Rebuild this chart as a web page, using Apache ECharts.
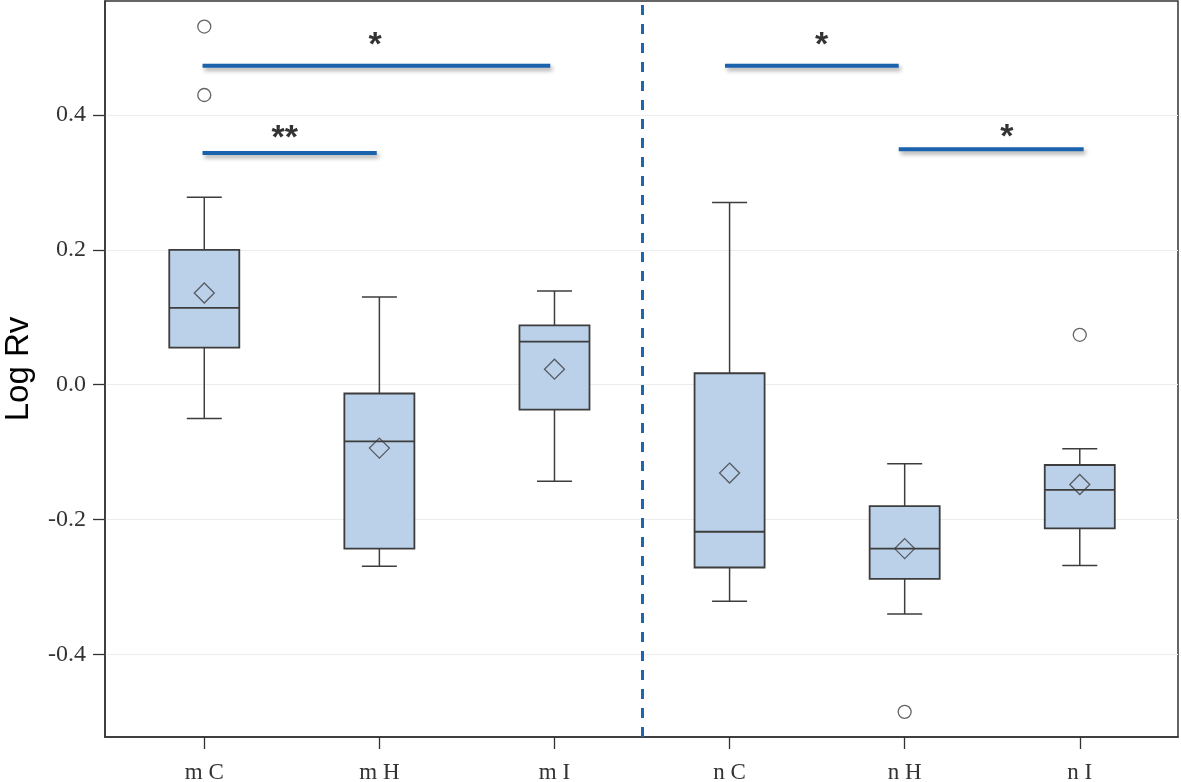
<!DOCTYPE html>
<html>
<head>
<meta charset="utf-8">
<script src="https://cdn.jsdelivr.net/npm/echarts@6/dist/echarts.min.js"></script>
<style>
html,body{margin:0;padding:0;background:#fff;}
#chart{width:1181px;height:782px;}
</style>
</head>
<body>
<div id="chart"></div>
<script>
// ---- data ----
const categories = ['m C', 'm H', 'm I', 'n C', 'n H', 'n I'];
// [lower whisker, Q1, median, Q3, upper whisker]
const boxStats = [
  [-0.050, 0.055, 0.114, 0.200, 0.278],
  [-0.269, -0.243, -0.084, -0.013, 0.130],
  [-0.143, -0.037, 0.064, 0.088, 0.139],
  [-0.321, -0.271, -0.218, 0.017, 0.270],
  [-0.340, -0.288, -0.243, -0.180, -0.117],
  [-0.268, -0.213, -0.156, -0.119, -0.095]
];
const means = [0.136, -0.094, 0.023, -0.131, -0.243, -0.148];
// [category index, value]
const outliers = [[0, 0.531], [0, 0.4295], [4, -0.485], [5, 0.074]];
// significance bars: [x from, x to, y]
const sigBars = [
  [-0.01, 1.976, 0.473],
  [-0.01, 0.985, 0.3435],
  [2.974, 3.966, 0.473],
  [3.966, 5.022, 0.349]
];
// significance labels: [x, y, text]
const sigLabels = [
  [0.975, 0.503, '*'],
  [0.46, 0.365, '**'],
  [3.526, 0.503, '*'],
  [4.583, 0.367, '*']
];
const yTicks = [-0.4, -0.2, 0.0, 0.2, 0.4];
const groupDivider = 2.5;

// ---- chart ----
const chart = echarts.init(document.getElementById('chart'));
const serif = 'Liberation Serif';

const boxData = boxStats.map((s, i) => [i].concat(s));

const series = [
  {
    type: 'custom',
    name: 'box',
    data: boxData,
    encode: { x: 0, y: [1, 2, 3, 4, 5] },
    renderItem: function (params, api) {
      const x = api.value(0);
      const bw = api.size([1, 0])[0] * 0.4;
      const cap = bw / 2;
      const pLow = api.coord([x, api.value(1)]);
      const pQ1 = api.coord([x, api.value(2)]);
      const pMed = api.coord([x, api.value(3)]);
      const pQ3 = api.coord([x, api.value(4)]);
      const pHigh = api.coord([x, api.value(5)]);
      const cx = pMed[0];
      const stroke = { stroke: '#3d3d3d', lineWidth: 1.5, fill: null };
      return {
        type: 'group',
        children: [
          { type: 'line', shape: { x1: cx, y1: pHigh[1], x2: cx, y2: pQ3[1] }, style: stroke },
          { type: 'line', shape: { x1: cx, y1: pLow[1], x2: cx, y2: pQ1[1] }, style: stroke },
          { type: 'line', shape: { x1: cx - cap / 2, y1: pHigh[1], x2: cx + cap / 2, y2: pHigh[1] }, style: stroke },
          { type: 'line', shape: { x1: cx - cap / 2, y1: pLow[1], x2: cx + cap / 2, y2: pLow[1] }, style: stroke },
          { type: 'rect', shape: { x: cx - bw / 2, y: pQ3[1], width: bw, height: pQ1[1] - pQ3[1] },
            style: { fill: '#bbd1ea', stroke: '#3d3d3d', lineWidth: 1.8 } },
          { type: 'line', shape: { x1: cx - bw / 2, y1: pMed[1], x2: cx + bw / 2, y2: pMed[1] },
            style: { stroke: '#3d3d3d', lineWidth: 1.8 } }
        ]
      };
    },
    z: 2
  },
  {
    type: 'scatter',
    name: 'mean',
    data: means.map((m, i) => [i, m]),
    symbol: 'diamond',
    symbolSize: [20, 20],
    itemStyle: { color: 'rgba(0,0,0,0)', borderColor: '#3d3d3d', borderWidth: 1.3 },
    z: 5
  },
  {
    type: 'scatter',
    name: 'outliers',
    data: outliers,
    symbol: 'circle',
    symbolSize: 13,
    itemStyle: { color: '#ffffff', borderColor: '#3d3d3d', borderWidth: 1.3 },
    z: 5,
    markLine: {
      silent: true,
      symbol: ['none', 'none'],
      label: { show: false },
      lineStyle: { color: '#1a66b0', width: 3, type: [10, 9] },
      data: [{ xAxis: groupDivider }]
    }
  }
];

sigBars.forEach((b) => {
  series.push({
    type: 'line',
    data: [[b[0], b[2]], [b[1], b[2]]],
    symbol: 'none',
    lineStyle: {
      color: '#1a62ab', width: 4, cap: 'butt',
      shadowColor: 'rgba(0,0,0,0.35)', shadowBlur: 4, shadowOffsetX: 2, shadowOffsetY: 3
    },
    z: 4,
    silent: true
  });
});

series.push({
  type: 'scatter',
  data: sigLabels.map(s => [s[0], s[1], s[2]]),
  symbolSize: 0,
  silent: true,
  label: {
    show: true,
    position: 'inside',
    formatter: p => p.data[2],
    color: '#000',
    fontFamily: 'Liberation Sans',
    fontWeight: 'bold',
    fontSize: 34
  },
  z: 6
});

chart.setOption({
  animation: false,
  backgroundColor: '#ffffff',
  grid: {
    left: 105, right: 3, top: 1, bottom: 45,
    outerBoundsMode: 'none',
    show: true, borderColor: '#333', borderWidth: 1.5, containLabel: false
  },
  xAxis: {
    type: 'value',
    min: -0.567,
    max: 5.561,
    axisLine: { show: true, onZero: false, lineStyle: { color: '#333', width: 1.5 } },
    axisTick: { show: true, length: 12, customValues: [0, 1, 2, 3, 4, 5], lineStyle: { color: '#333', width: 1.3 } },
    axisLabel: {
      show: true, customValues: [0, 1, 2, 3, 4, 5],
      formatter: v => categories[Math.round(v)] || '',
      fontFamily: serif, fontSize: 23, color: '#333', margin: 24
    },
    splitLine: { show: false }
  },
  yAxis: {
    type: 'value',
    min: -0.5223,
    max: 0.5689,
    name: 'Log Rv',
    nameLocation: 'middle',
    nameGap: 70,
    nameTextStyle: { fontFamily: 'Liberation Sans', fontSize: 33, color: '#000' },
    axisLine: { show: true, onZero: false, lineStyle: { color: '#333', width: 1.5 } },
    axisTick: { show: true, length: 12, customValues: yTicks, lineStyle: { color: '#333', width: 1.3 } },
    axisLabel: {
      show: true, customValues: yTicks,
      formatter: v => v.toFixed(1),
      fontFamily: serif, fontSize: 24, color: '#333', margin: 19
    },
    splitLine: { show: true, lineStyle: { color: '#ececec', width: 1 } }
  },
  series: series
});
</script>
</body>
</html>
